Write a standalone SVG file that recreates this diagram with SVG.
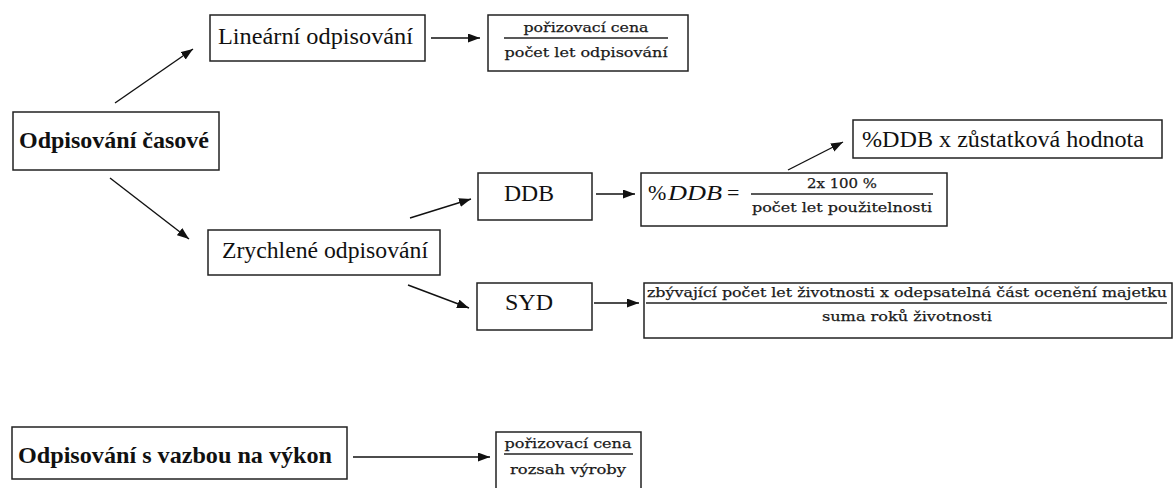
<svg xmlns="http://www.w3.org/2000/svg" width="1176" height="488" viewBox="0 0 1176 488">
<style>
.box{fill:#fff;stroke:#222;stroke-width:1.5}
.t{font-family:"Liberation Serif","Times New Roman",serif;font-size:23.5px;fill:#111}
.b{font-weight:bold;font-size:24px}
.f{font-family:"DejaVu Serif","Liberation Serif",serif;font-size:13.5px;fill:#1a1a1a;stroke:#1a1a1a;stroke-width:0.25}
.m{font-family:"Liberation Serif","Times New Roman",serif;font-size:22px;fill:#111}
.fl{stroke:#222;stroke-width:1.3}
.c{stroke:#111;stroke-width:1.4;fill:none;marker-end:url(#ah)}
</style>
<defs>
<marker id="ah" markerUnits="userSpaceOnUse" markerWidth="13" markerHeight="10" refX="12" refY="4.5" orient="auto">
<path d="M0,0 L12,4.5 L0,9 z" fill="#111"/>
</marker>
</defs>
<rect width="1176" height="488" fill="#fff"/>

<g id="connectors">
<line class="c" x1="115" y1="103" x2="193" y2="49"/>
<line class="c" x1="110" y1="178" x2="189" y2="239"/>
<line class="c" x1="431" y1="38" x2="480" y2="38"/>
<line class="c" x1="410" y1="218" x2="471" y2="199"/>
<line class="c" x1="596" y1="194" x2="635" y2="194"/>
<line class="c" x1="788" y1="170" x2="843" y2="142"/>
<line class="c" x1="408" y1="285" x2="469" y2="308"/>
<line class="c" x1="594" y1="303" x2="639" y2="303"/>
<line class="c" x1="353" y1="457" x2="490" y2="457"/>
</g>

<g id="odpisovani-casove">
<rect class="box" x="13" y="112" width="206" height="58"/>
<text class="t b" x="19" y="148" textLength="190" lengthAdjust="spacingAndGlyphs">Odpisování časové</text>
</g>

<g id="linearni">
<rect class="box" x="210" y="15" width="215" height="46"/>
<text class="t" x="218" y="44" textLength="195" lengthAdjust="spacingAndGlyphs">Lineární odpisování</text>
</g>

<g id="linearni-vzorec">
<rect class="box" x="488" y="15" width="200" height="56"/>
<text class="f" x="586" y="32" text-anchor="middle" textLength="125" lengthAdjust="spacingAndGlyphs">pořizovací cena</text>
<line class="fl" x1="504" y1="38" x2="668" y2="38"/>
<text class="f" x="586" y="57" text-anchor="middle" textLength="163" lengthAdjust="spacingAndGlyphs">počet let odpisování</text>
</g>

<g id="zrychlene">
<rect class="box" x="208" y="230" width="232" height="45"/>
<text class="t" x="222" y="258" textLength="206" lengthAdjust="spacingAndGlyphs">Zrychlené odpisování</text>
</g>

<g id="ddb">
<rect class="box" x="478" y="173" width="114" height="47"/>
<text class="t" x="504" y="201" textLength="50" lengthAdjust="spacingAndGlyphs">DDB</text>
</g>

<g id="ddb-vzorec">
<rect class="box" x="641" y="173" width="306" height="53"/>
<text class="m" x="648" y="200">%</text>
<text class="m" x="668" y="200" font-style="italic" textLength="54" lengthAdjust="spacingAndGlyphs">DDB</text>
<text class="m" x="727" y="200">=</text>
<text class="f" x="842" y="188" text-anchor="middle" textLength="70" lengthAdjust="spacingAndGlyphs">2x 100 %</text>
<line class="fl" x1="751" y1="194" x2="933" y2="194"/>
<text class="f" x="842" y="212" text-anchor="middle" textLength="180" lengthAdjust="spacingAndGlyphs">počet let použitelnosti</text>
</g>

<g id="ddb-zustatkova">
<rect class="box" x="853" y="120" width="309" height="38"/>
<text class="t" x="862" y="147" textLength="282" lengthAdjust="spacingAndGlyphs">%DDB x zůstatková hodnota</text>
</g>

<g id="syd">
<rect class="box" x="477" y="283" width="115" height="47"/>
<text class="t" x="505" y="310" textLength="48" lengthAdjust="spacingAndGlyphs">SYD</text>
</g>

<g id="syd-vzorec">
<rect class="box" x="644" y="283" width="528" height="55"/>
<text class="f" x="647" y="297" textLength="520" lengthAdjust="spacingAndGlyphs">zbývající počet let životnosti x odepsatelná část ocenění majetku</text>
<line class="fl" x1="646" y1="303" x2="1167" y2="303"/>
<text class="f" x="907" y="321" text-anchor="middle" textLength="170" lengthAdjust="spacingAndGlyphs">suma roků životnosti</text>
</g>

<g id="odpisovani-vykon">
<rect class="box" x="12" y="427" width="335" height="52"/>
<text class="t b" x="18" y="463" textLength="314" lengthAdjust="spacingAndGlyphs">Odpisování s vazbou na výkon</text>
</g>

<g id="vykon-vzorec">
<rect class="box" x="496" y="432" width="145" height="62"/>
<text class="f" x="568" y="448" text-anchor="middle" textLength="127" lengthAdjust="spacingAndGlyphs">pořizovací cena</text>
<line class="fl" x1="504" y1="454" x2="633" y2="454"/>
<text class="f" x="568" y="474" text-anchor="middle" textLength="116" lengthAdjust="spacingAndGlyphs">rozsah výroby</text>
</g>
</svg>
